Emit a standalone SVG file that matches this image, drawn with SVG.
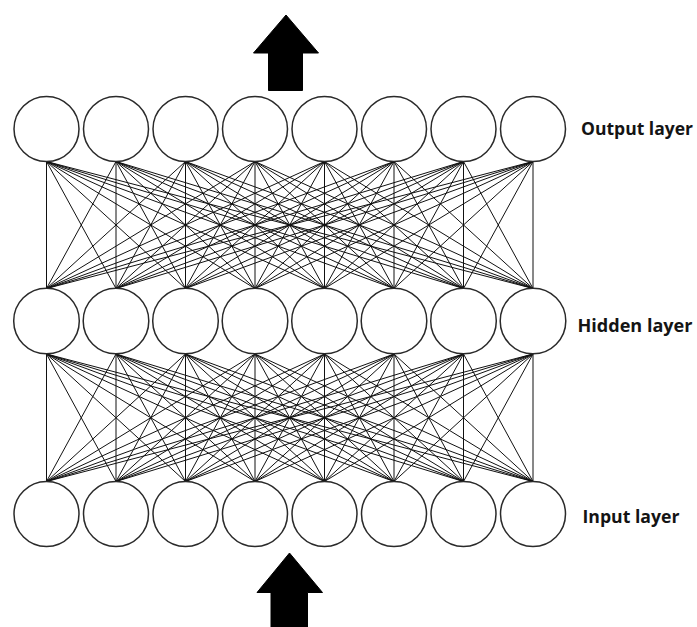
<svg xmlns="http://www.w3.org/2000/svg" width="697" height="627" viewBox="0 0 697 627">
  <style>
    .link { fill: none; stroke: #111111; stroke-width: 1; }
    .neuron { fill: #ffffff; stroke: #2a2a2a; stroke-width: 1.5; }
    .flow { fill: #000000; stroke: #000000; stroke-width: 1; stroke-linejoin: round; }
    .label { font-family: "Open Sans", "Liberation Sans", sans-serif; font-weight: bold; font-size: 17.5px; fill: #141414; }
  </style>
  <rect width="697" height="627" fill="#ffffff"/>

  <!-- direction of signal flow -->
  <polygon class="flow" points="286,15 318.5,53 302.5,53 302.5,90.5 268.5,90.5 268.5,53 253.5,53"/>
  <polygon class="flow" points="289.5,553 322.5,592.5 307.5,592.5 307.5,627 271,627 271,592.5 257,592.5"/>

  <!-- fully connected weights between layers -->
  <g id="connectors">
    <g id="output-hidden">
      <path class="link" d="M46.5 161.5L46.5 288.5M46.5 161.5L116 288.5M46.5 161.5L185.5 288.5M46.5 161.5L255 288.5M46.5 161.5L324.5 288.5M46.5 161.5L394 288.5M46.5 161.5L463.5 288.5M46.5 161.5L533 288.5"/>
      <path class="link" d="M116 161.5L46.5 288.5M116 161.5L116 288.5M116 161.5L185.5 288.5M116 161.5L255 288.5M116 161.5L324.5 288.5M116 161.5L394 288.5M116 161.5L463.5 288.5M116 161.5L533 288.5"/>
      <path class="link" d="M185.5 161.5L46.5 288.5M185.5 161.5L116 288.5M185.5 161.5L185.5 288.5M185.5 161.5L255 288.5M185.5 161.5L324.5 288.5M185.5 161.5L394 288.5M185.5 161.5L463.5 288.5M185.5 161.5L533 288.5"/>
      <path class="link" d="M255 161.5L46.5 288.5M255 161.5L116 288.5M255 161.5L185.5 288.5M255 161.5L255 288.5M255 161.5L324.5 288.5M255 161.5L394 288.5M255 161.5L463.5 288.5M255 161.5L533 288.5"/>
      <path class="link" d="M324.5 161.5L46.5 288.5M324.5 161.5L116 288.5M324.5 161.5L185.5 288.5M324.5 161.5L255 288.5M324.5 161.5L324.5 288.5M324.5 161.5L394 288.5M324.5 161.5L463.5 288.5M324.5 161.5L533 288.5"/>
      <path class="link" d="M394 161.5L46.5 288.5M394 161.5L116 288.5M394 161.5L185.5 288.5M394 161.5L255 288.5M394 161.5L324.5 288.5M394 161.5L394 288.5M394 161.5L463.5 288.5M394 161.5L533 288.5"/>
      <path class="link" d="M463.5 161.5L46.5 288.5M463.5 161.5L116 288.5M463.5 161.5L185.5 288.5M463.5 161.5L255 288.5M463.5 161.5L324.5 288.5M463.5 161.5L394 288.5M463.5 161.5L463.5 288.5M463.5 161.5L533 288.5"/>
      <path class="link" d="M533 161.5L46.5 288.5M533 161.5L116 288.5M533 161.5L185.5 288.5M533 161.5L255 288.5M533 161.5L324.5 288.5M533 161.5L394 288.5M533 161.5L463.5 288.5M533 161.5L533 288.5"/>
    </g>
    <g id="hidden-input">
      <path class="link" d="M46.5 354L46.5 481.5M46.5 354L116 481.5M46.5 354L185.5 481.5M46.5 354L255 481.5M46.5 354L324.5 481.5M46.5 354L394 481.5M46.5 354L463.5 481.5M46.5 354L533 481.5"/>
      <path class="link" d="M116 354L46.5 481.5M116 354L116 481.5M116 354L185.5 481.5M116 354L255 481.5M116 354L324.5 481.5M116 354L394 481.5M116 354L463.5 481.5M116 354L533 481.5"/>
      <path class="link" d="M185.5 354L46.5 481.5M185.5 354L116 481.5M185.5 354L185.5 481.5M185.5 354L255 481.5M185.5 354L324.5 481.5M185.5 354L394 481.5M185.5 354L463.5 481.5M185.5 354L533 481.5"/>
      <path class="link" d="M255 354L46.5 481.5M255 354L116 481.5M255 354L185.5 481.5M255 354L255 481.5M255 354L324.5 481.5M255 354L394 481.5M255 354L463.5 481.5M255 354L533 481.5"/>
      <path class="link" d="M324.5 354L46.5 481.5M324.5 354L116 481.5M324.5 354L185.5 481.5M324.5 354L255 481.5M324.5 354L324.5 481.5M324.5 354L394 481.5M324.5 354L463.5 481.5M324.5 354L533 481.5"/>
      <path class="link" d="M394 354L46.5 481.5M394 354L116 481.5M394 354L185.5 481.5M394 354L255 481.5M394 354L324.5 481.5M394 354L394 481.5M394 354L463.5 481.5M394 354L533 481.5"/>
      <path class="link" d="M463.5 354L46.5 481.5M463.5 354L116 481.5M463.5 354L185.5 481.5M463.5 354L255 481.5M463.5 354L324.5 481.5M463.5 354L394 481.5M463.5 354L463.5 481.5M463.5 354L533 481.5"/>
      <path class="link" d="M533 354L46.5 481.5M533 354L116 481.5M533 354L185.5 481.5M533 354L255 481.5M533 354L324.5 481.5M533 354L394 481.5M533 354L463.5 481.5M533 354L533 481.5"/>
    </g>
  </g>

  <!-- output layer -->
  <g id="output-layer">
    <g id="out-1"><circle class="neuron" cx="46.5" cy="129" r="32.5"/></g>
    <g id="out-2"><circle class="neuron" cx="116" cy="129" r="32.5"/></g>
    <g id="out-3"><circle class="neuron" cx="185.5" cy="129" r="32.5"/></g>
    <g id="out-4"><circle class="neuron" cx="255" cy="129" r="32.5"/></g>
    <g id="out-5"><circle class="neuron" cx="324.5" cy="129" r="32.5"/></g>
    <g id="out-6"><circle class="neuron" cx="394" cy="129" r="32.5"/></g>
    <g id="out-7"><circle class="neuron" cx="463.5" cy="129" r="32.5"/></g>
    <g id="out-8"><circle class="neuron" cx="533" cy="129" r="32.5"/></g>
    <text class="label" x="581" y="135" textLength="112" lengthAdjust="spacingAndGlyphs">Output layer</text>
  </g>

  <!-- hidden layer -->
  <g id="hidden-layer">
    <g id="hid-1"><circle class="neuron" cx="46.5" cy="321" r="32.8"/></g>
    <g id="hid-2"><circle class="neuron" cx="116" cy="321" r="32.8"/></g>
    <g id="hid-3"><circle class="neuron" cx="185.5" cy="321" r="32.8"/></g>
    <g id="hid-4"><circle class="neuron" cx="255" cy="321" r="32.8"/></g>
    <g id="hid-5"><circle class="neuron" cx="324.5" cy="321" r="32.8"/></g>
    <g id="hid-6"><circle class="neuron" cx="394" cy="321" r="32.8"/></g>
    <g id="hid-7"><circle class="neuron" cx="463.5" cy="321" r="32.8"/></g>
    <g id="hid-8"><circle class="neuron" cx="533" cy="321" r="32.8"/></g>
    <text class="label" x="577.5" y="331.5" textLength="115" lengthAdjust="spacingAndGlyphs">Hidden layer</text>
  </g>

  <!-- input layer -->
  <g id="input-layer">
    <g id="in-1"><circle class="neuron" cx="46.5" cy="514" r="32.5"/></g>
    <g id="in-2"><circle class="neuron" cx="116" cy="514" r="32.5"/></g>
    <g id="in-3"><circle class="neuron" cx="185.5" cy="514" r="32.5"/></g>
    <g id="in-4"><circle class="neuron" cx="255" cy="514" r="32.5"/></g>
    <g id="in-5"><circle class="neuron" cx="324.5" cy="514" r="32.5"/></g>
    <g id="in-6"><circle class="neuron" cx="394" cy="514" r="32.5"/></g>
    <g id="in-7"><circle class="neuron" cx="463.5" cy="514" r="32.5"/></g>
    <g id="in-8"><circle class="neuron" cx="533" cy="514" r="32.5"/></g>
    <text class="label" x="582.5" y="522.5" textLength="97" lengthAdjust="spacingAndGlyphs">Input layer</text>
  </g>
</svg>
